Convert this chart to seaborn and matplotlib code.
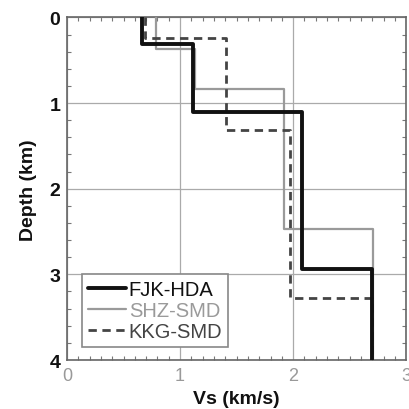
import numpy as np
import pandas as pd
import matplotlib
matplotlib.use("Agg")
import matplotlib.pyplot as plt
import seaborn as sns
from matplotlib.ticker import MultipleLocator

# Layered S-wave velocity models: velocity of each layer and depth of its base
sites = ["FJK-HDA", "SHZ-SMD", "KKG-SMD"]
fjk_vs = [0.66, 1.11, 2.08, 2.70]
fjk_base = [0.31, 1.10, 2.94, 4.0]
shz_vs = [0.79, 1.13, 1.92, 2.71]
shz_base = [0.37, 0.83, 2.47, 4.0]
kkg_vs = [0.69, 1.41, 1.97, 2.70]
kkg_base = [0.24, 1.32, 3.28, 4.0]

models = {"FJK-HDA": (fjk_vs, fjk_base),
          "SHZ-SMD": (shz_vs, shz_base),
          "KKG-SMD": (kkg_vs, kkg_base)}


def step_profile(vs, base):
    xs, ys = [], []
    top = 0.0
    for v, b in zip(vs, base):
        xs += [v, v]
        ys += [top, b]
        top = b
    return xs, ys


rows = []
for name in sites:
    xs, ys = step_profile(*models[name])
    for i, (x, y) in enumerate(zip(xs, ys)):
        rows.append({"site": name, "order": i, "vs": x, "depth": y})
df = pd.DataFrame(rows)

sns.set_theme(style="white")
plt.rcParams["font.family"] = ["Liberation Sans", "DejaVu Sans"]

fig = plt.figure(figsize=(4.09, 4.10), dpi=100)
ax = fig.add_axes([0.164, 0.1195, 0.829, 0.8355])

styles = {
    "FJK-HDA": dict(color="#111111", lw=2.8, ls="-"),
    "SHZ-SMD": dict(color="#9a9a9a", lw=1.6, ls="-"),
    "KKG-SMD": dict(color="#444444", lw=2.0, ls=(0, (3, 2))),
}
for name in ["SHZ-SMD", "KKG-SMD", "FJK-HDA"]:
    st = styles[name]
    sns.lineplot(data=df[df.site == name], x="vs", y="depth", sort=False,
                 estimator=None, ax=ax, color=st["color"], linewidth=st["lw"],
                 linestyle=st["ls"], label=name, zorder=3)

ax.set_xlim(0, 3)
ax.set_ylim(4, 0)
ax.xaxis.set_major_locator(MultipleLocator(1))
ax.yaxis.set_major_locator(MultipleLocator(1))
ax.xaxis.set_minor_locator(MultipleLocator(0.1))
ax.yaxis.set_minor_locator(MultipleLocator(0.2))
ax.grid(True, which="major", color="#aaaaaa", linewidth=0.9)
ax.tick_params(which="both", direction="in", top=True, right=True,
               bottom=True, left=True, color="#777777")
ax.tick_params(which="major", length=0, pad=5)
ax.tick_params(which="minor", length=3, width=0.8)
for lab in ax.get_xticklabels():
    lab.set_color("#999999")
    lab.set_fontsize(13)
for lab in ax.get_yticklabels():
    lab.set_color("#111111")
    lab.set_fontsize(14)
    lab.set_fontweight("bold")
for sp in ax.spines.values():
    sp.set_color("#666666")
    sp.set_linewidth(1.2)

ax.set_xlabel("Vs (km/s)", fontsize=14, fontweight="bold", color="#111111", labelpad=4)
ax.set_ylabel("Depth (km)", fontsize=14, fontweight="bold", color="#111111", labelpad=9)

handles, labels = ax.get_legend_handles_labels()
order = [labels.index(s) for s in sites]
leg = ax.legend([handles[i] for i in order], [labels[i] for i in order],
                loc="lower left", bbox_to_anchor=(0.044, 0.038), fontsize=14.5,
                frameon=True, fancybox=False, edgecolor="#888888",
                handlelength=1.9, handletextpad=0.12, borderpad=0.3,
                labelspacing=0.1, borderaxespad=0)
leg.get_frame().set_linewidth(1.2)
leg.get_frame().set_alpha(1)
for txt, s in zip(leg.get_texts(), sites):
    txt.set_color(styles[s]["color"])

fig.savefig("out.png", dpi=100)
